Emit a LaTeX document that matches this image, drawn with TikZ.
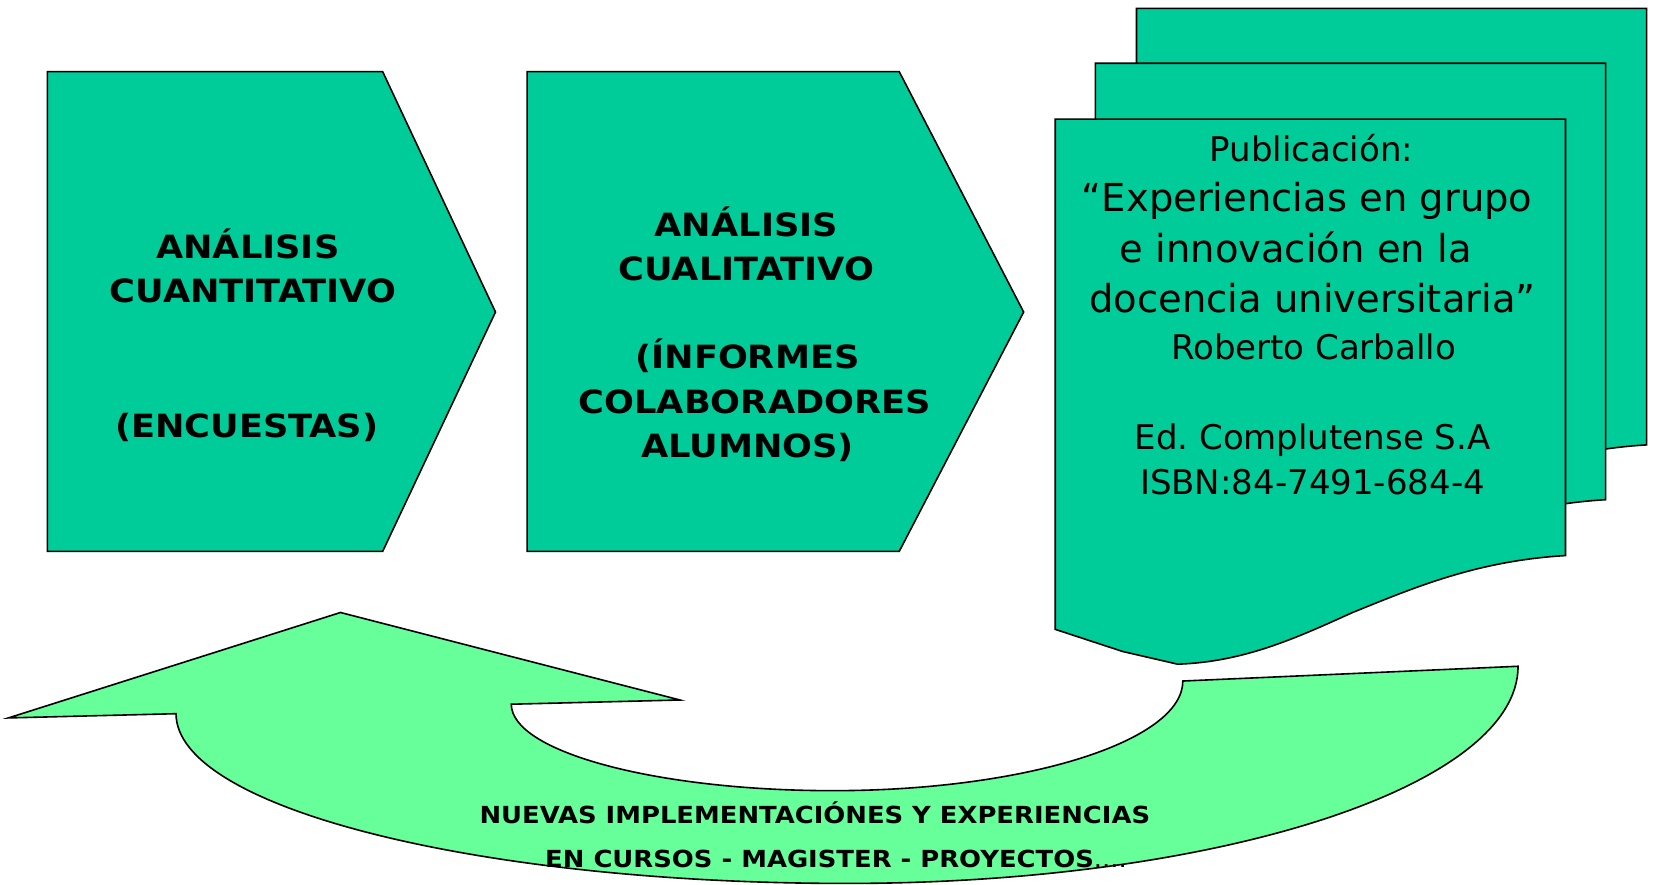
\documentclass[tikz,border=0pt]{standalone}
\usepackage{fontspec}
\setmainfont{DejaVu Sans}
\newfontfamily\comicb{DejaVu Sans}[FakeStretch=1.1]
\definecolor{chev}{HTML}{00CC99}
\definecolor{arrowgreen}{HTML}{66FF99}
\frenchspacing
\begin{document}
\begin{tikzpicture}[x=1.0542pt,y=-1.0542pt,
  shapeline/.style={draw=black,line width=1.6pt,line join=miter},
  chevshape/.style={shapeline,fill=chev},
  docsty/.style={shapeline,fill=chev},
  arrowsty/.style={shapeline,fill=arrowgreen},
  chevtext/.style={anchor=base,inner sep=0pt,font=\comicb\bfseries\fontsize{32}{40}\selectfont},
  doctitle/.style={anchor=base,inner sep=0pt,font=\fontsize{38.5}{46}\selectfont},
  docsmall/.style={anchor=base,inner sep=0pt,font=\fontsize{34}{40}\selectfont},
  bottomtext/.style={anchor=base,inner sep=0pt,font=\comicb\bfseries\fontsize{23.5}{30}\selectfont},
  docpic/.pic={\draw[docsty] (0,0) -- (484,0) -- (484,414)
      .. controls (399,419) and (339,445) .. (282,468)
      .. controls (229,492) and (179,515) .. (116,517)
      -- (64,505) -- (0,484) -- cycle;}
]
\useasboundingbox (0,0) rectangle (1568,839);

% chevrons
\draw[chevshape] (45,68) -- (363,68) -- (470,296) -- (363,523) -- (45,523) -- cycle;
\draw[chevshape] (500,68) -- (853,68) -- (971,296) -- (853,523) -- (500,523) -- cycle;

\node[chevtext] (c1a) at (235,245) {ANÁLISIS};
\node[chevtext] (c1b) at (240,287) {CUANTITATIVO};
\node[chevtext] (c1c) at (234,415) {(ENCUESTAS)};

\node[chevtext] (c2a) at (708,224) {ANÁLISIS};
\node[chevtext] (c2b) at (708,266) {CUALITATIVO};
\node[chevtext] (c2c) at (709,350) {(ÍNFORMES};
\node[chevtext] (c2d) at (716,392) {COLABORADORES};
\node[chevtext] (c2e) at (709,434) {ALUMNOS)};

% document stack
\pic at (1078,8) {docpic};
\pic at (1039,60) {docpic};
\pic at (1001,113) {docpic};

\node[docsmall] (d1) at (1244,153) {Publicación:};
\node[doctitle] (d2) at (1240,201) {“Experiencias en grupo};
\node[doctitle] (d3) at (1229,249) {e innovación en la};
\node[doctitle] (d4) at (1245,296) {docencia universitaria”};
\node[docsmall] (d5) at (1246,341) {Roberto Carballo};
\node[docsmall] (d6) at (1245,426) {Ed. Complutense S.A};
\node[docsmall] (d7) at (1245,469) {ISBN:84-7491-684-4};

% curved return arrow
\draw[arrowsty] (1440,632) -- (1122,646)
  .. controls (1122,703) and (973,750) .. (790,750)
  .. controls (622,750) and (485,713) .. (485,668)
  -- (645,664) -- (323,581) -- (8,681) -- (167,677)
  .. controls (167,766) and (452,838) .. (803,838)
  .. controls (1155,838) and (1440,746) .. (1440,632) -- cycle;

\node[bottomtext] (b1) at (773,781) {NUEVAS IMPLEMENTACIÓNES Y EXPERIENCIAS};
\node[bottomtext] (b2) at (793,823) {EN CURSOS - MAGISTER - PROYECTOS{\mdseries....}};
\end{tikzpicture}
\end{document}
